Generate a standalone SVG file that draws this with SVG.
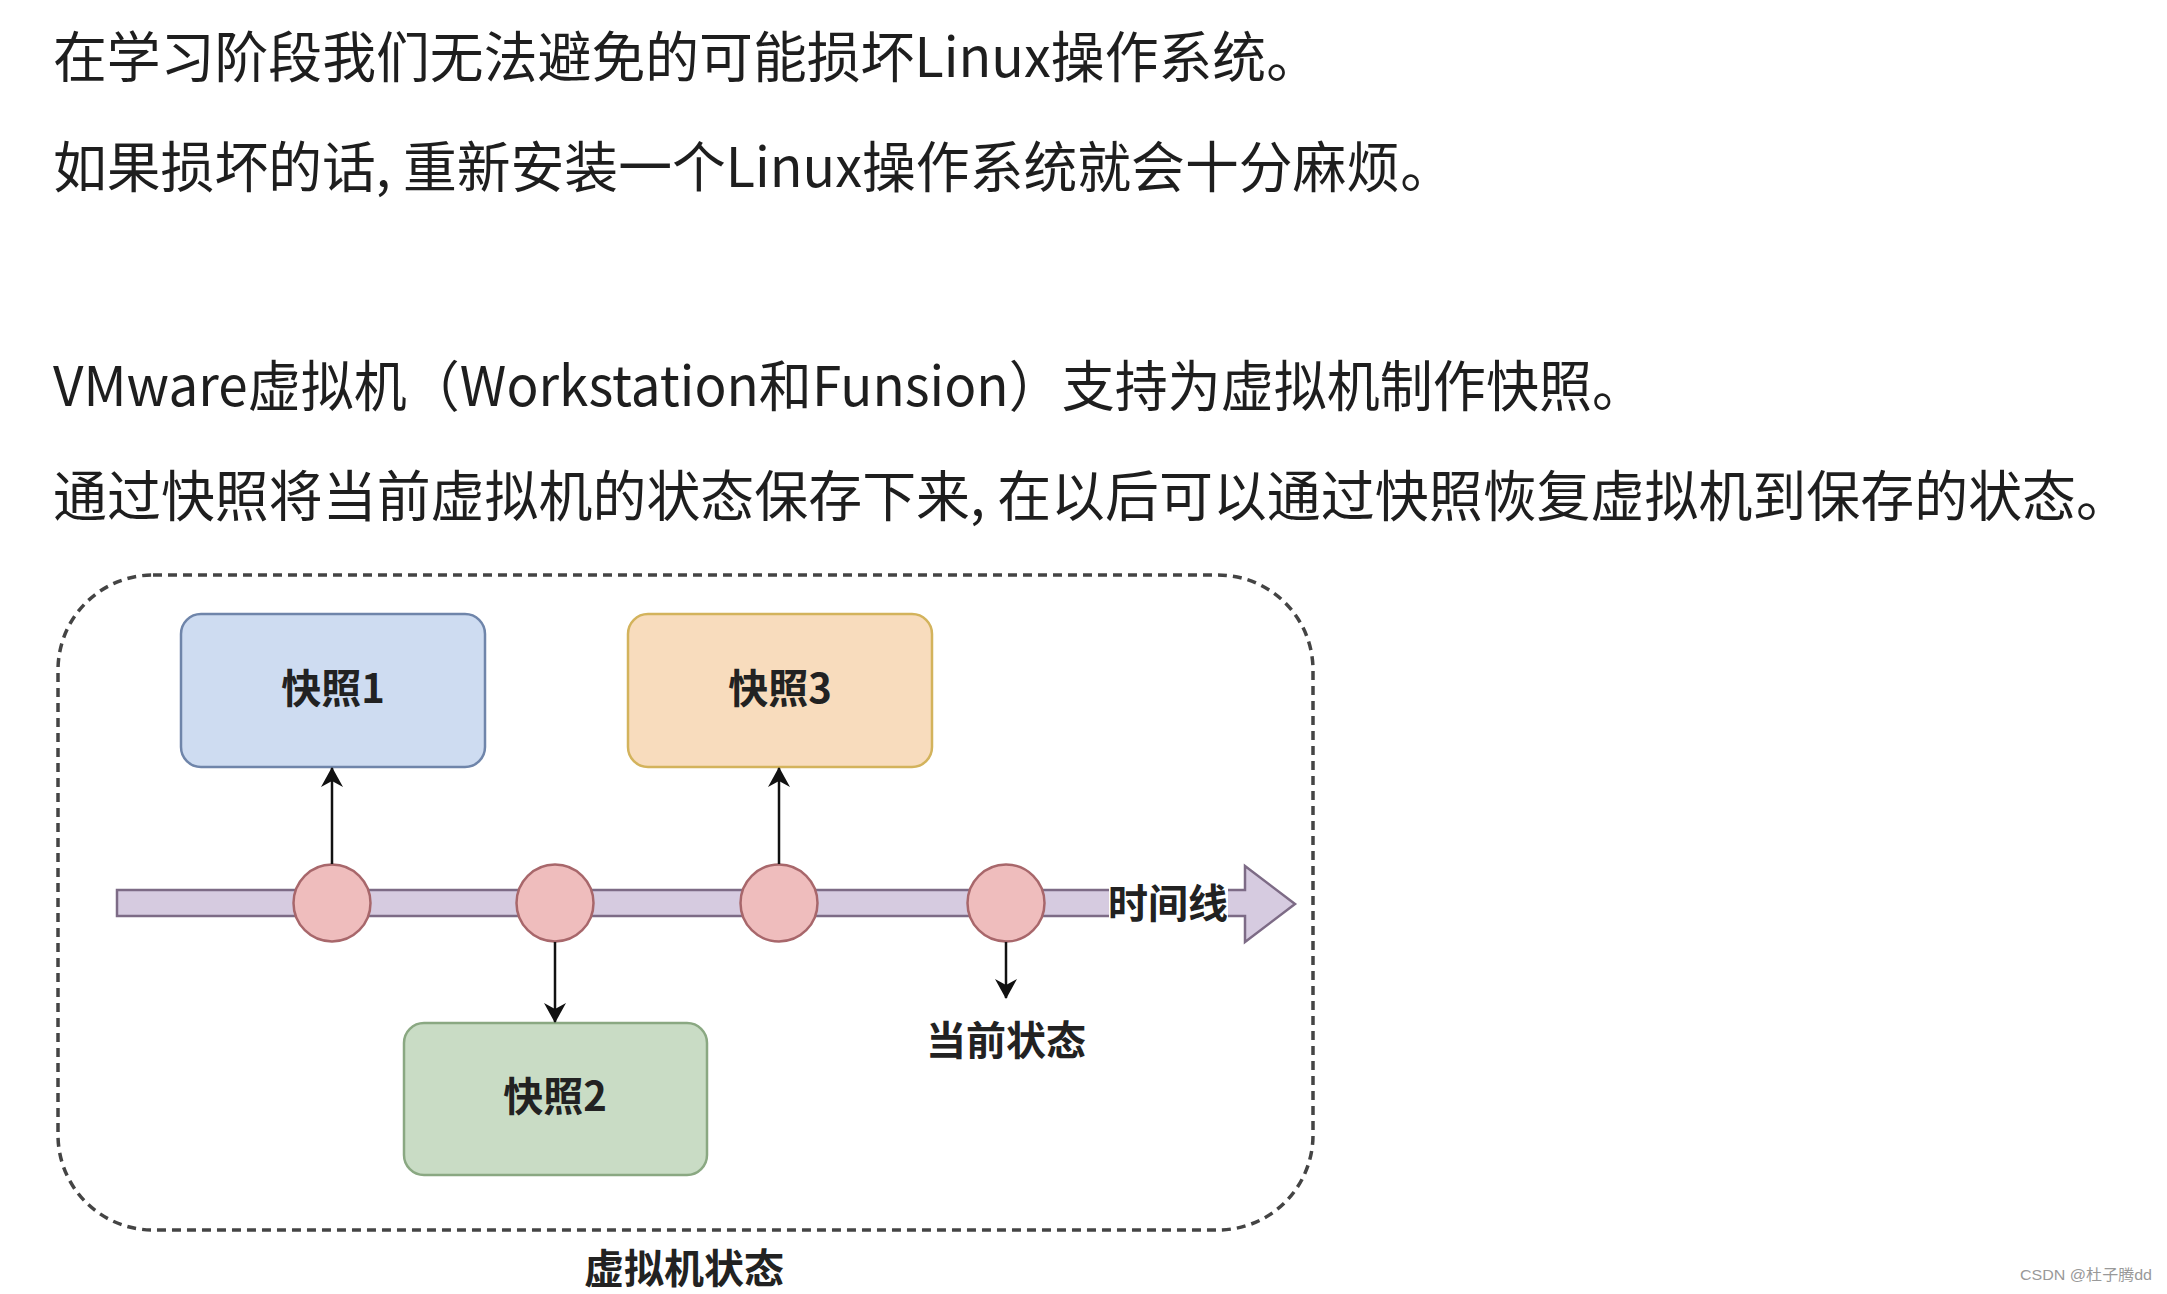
<svg xmlns="http://www.w3.org/2000/svg" width="2167" height="1294" viewBox="0 0 2167 1294">
  <defs>
    <style>
      .para { font-family: "Noto Sans CJK SC", "Noto Sans", sans-serif; font-size: 55px; fill: #1e1e1e; dominant-baseline: central; }
      .lbl { font-family: "Noto Sans CJK SC", "Noto Sans", sans-serif; font-size: 40px; font-weight: bold; fill: #222; text-anchor: middle; dominant-baseline: central; }
      .box { stroke-width: 2.5; }
      .dot { fill: #efbdbd; stroke: #a8676b; stroke-width: 2.5; }
      .conn { stroke: #111; stroke-width: 2.5; fill: none; marker-end: url(#arr); }
    </style>
    <marker id="arr" viewBox="0 0 20 22" refX="19" refY="11" markerWidth="20" markerHeight="22" markerUnits="userSpaceOnUse" orient="auto">
      <path d="M0,0 L20,11 L0,22 L6,11 Z" fill="#111"/>
    </marker>
  </defs>
  <rect width="2167" height="1294" fill="#ffffff"/>

  <g id="paragraphs">
    <text class="para" x="53" y="53" textLength="1267" lengthAdjust="spacingAndGlyphs">在学习阶段我们无法避免的可能损坏Linux操作系统。</text>
    <text class="para" x="53" y="163" textLength="1401" lengthAdjust="spacingAndGlyphs">如果损坏的话, 重新安装一个Linux操作系统就会十分麻烦。</text>
    <text class="para" x="53" y="382" textLength="1592" lengthAdjust="spacingAndGlyphs">VMware虚拟机（Workstation和Funsion）支持为虚拟机制作快照。</text>
    <text class="para" x="53" y="492" textLength="2077" lengthAdjust="spacingAndGlyphs">通过快照将当前虚拟机的状态保存下来, 在以后可以通过快照恢复虚拟机到保存的状态。</text>
  </g>

  <g id="vm-state">
    <rect x="58" y="575" width="1255" height="655" rx="95" ry="95" fill="none" stroke="#444" stroke-width="3.5" stroke-dasharray="9 6"/>
    <text class="lbl" x="684" y="1266">虚拟机状态</text>
  </g>

  <g id="timeline">
    <path d="M117,890 L1245,890 L1245,866 L1295,904 L1245,942 L1245,916 L117,916 Z" fill="#d6cbe0" stroke="#7d6b86" stroke-width="2.5" stroke-linejoin="miter"/>
    <rect x="1109" y="885" width="119" height="36" fill="#ffffff"/>
    <text class="lbl" x="1168" y="901" font-size="39">时间线</text>
  </g>

  <g id="point1"><circle class="dot" cx="332" cy="903" r="38.5"/></g>
  <g id="point2"><circle class="dot" cx="555" cy="903" r="38.5"/></g>
  <g id="point3"><circle class="dot" cx="779" cy="903" r="38.5"/></g>
  <g id="point4"><circle class="dot" cx="1006" cy="903" r="38.5"/></g>

  <g id="snapshot1">
    <rect class="box" x="181" y="614" width="304" height="153" rx="20" fill="#cedcf1" stroke="#6f85aa"/>
    <text class="lbl" x="333" y="686">快照1</text>
  </g>
  <g id="snapshot3">
    <rect class="box" x="628" y="614" width="304" height="153" rx="20" fill="#f8dcbd" stroke="#d3b35c"/>
    <text class="lbl" x="780" y="686">快照3</text>
  </g>
  <g id="snapshot2">
    <rect class="box" x="404" y="1023" width="303" height="152" rx="20" fill="#c9dcc5" stroke="#8aa882"/>
    <text class="lbl" x="555" y="1094">快照2</text>
  </g>
  <g id="current-state">
    <text class="lbl" x="1006" y="1038">当前状态</text>
  </g>

  <g id="connectors">
    <line class="conn" x1="332" y1="864" x2="332" y2="768"/>
    <line class="conn" x1="779" y1="864" x2="779" y2="768"/>
    <line class="conn" x1="555" y1="942" x2="555" y2="1022"/>
    <line class="conn" x1="1006" y1="942" x2="1006" y2="998"/>
  </g>

  <text x="2020" y="1274" font-family="Liberation Sans, Noto Sans CJK SC, sans-serif" font-size="15" fill="#999" dominant-baseline="central" textLength="132" lengthAdjust="spacingAndGlyphs">CSDN @杜子腾dd</text>
</svg>
